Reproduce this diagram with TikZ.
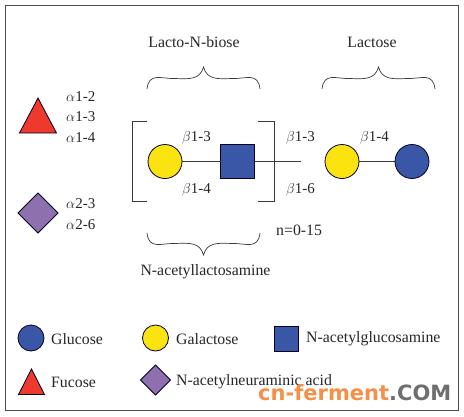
\documentclass[tikz,border=0pt]{standalone}
\usepackage{fontspec}
\setmainfont{Liberation Serif}
\usetikzlibrary{shapes.geometric}
\definecolor{glcblue}{HTML}{3A57A7}
\definecolor{galyellow}{HTML}{FBE30F}
\definecolor{fucred}{HTML}{EE3A2C}
\definecolor{neupurple}{HTML}{8E70AE}
\definecolor{linegray}{HTML}{3A3A3A}
\definecolor{wmorange}{HTML}{F58F4A}
\definecolor{wmgray}{HTML}{6E6E6E}
\tikzset{
  x=1pt,y=-1pt,
  sym/.style={draw=black!85!blue,line width=0.8pt,inner sep=0pt,outer sep=0pt},
  glc/.style={sym,circle,fill=glcblue,minimum size=#1},
  gal/.style={sym,circle,fill=galyellow,minimum size=#1},
  glcnac/.style={sym,rectangle,fill=glcblue,minimum size=#1},
  neu/.style={sym,diamond,fill=neupurple,minimum size=#1},
  fuc/.style={sym,fill=fucred,line join=miter},
  lab/.style={font=\fontsize{15.8}{17}\selectfont,text=black!85,inner sep=0pt,anchor=west},
  bondlab/.style={font=\fontsize{15}{17}\selectfont,text=black!85,inner sep=0pt,anchor=west},
  link/.style={draw=linegray,line width=0.8pt},
  bracketline/.style={draw=linegray,line width=0.8pt},
  bracecurve/.style={draw=linegray,line width=0.7pt}
}
\newcommand{\bond}[1]{$\beta$1-#1}
\newcommand{\bondA}[1]{$\alpha$1-#1}
\newcommand{\bondB}[1]{$\alpha$2-#1}
\newcommand{\mybrace}[3]{%
  \draw[bracecurve] (#1,#2) .. controls (#1+2,#2-17*#3) and (#1+14,#2-10*#3) .. (#1+28,#2-10.5*#3)
    .. controls (#1+42,#2-10*#3) and (#1+53,#2-9*#3) .. (#1+56.5,#2-22*#3)
    .. controls (#1+60,#2-9*#3) and (#1+71,#2-10*#3) .. (#1+85,#2-10.5*#3)
    .. controls (#1+99,#2-10*#3) and (#1+111,#2-17*#3) .. (#1+113,#2);}
\begin{document}
\begin{tikzpicture}
\useasboundingbox (0,0) rectangle (464,416);
\fill[white] (0,0) rectangle (464,416);
\draw[draw=black!70,line width=0.9pt] (5.5,5.5) rectangle (458,410);

% titles and braces
\node[lab,anchor=center] (tLNB) at (194,42) {Lacto-N-biose};
\node[lab,anchor=center] (tLac) at (372,42) {Lactose};
\node[lab,anchor=center] (tLacNAc) at (205.5,272) {N-acetyllactosamine};
\mybrace{147}{89}{1}
\mybrace{322}{89}{1}
\mybrace{147}{233}{-1}

% left key
\path[fuc] (38,98) -- (56.5,133) -- (19.5,133) -- cycle;
\node[bondlab] (a12) at (66,96.5) {\bondA{2}};
\node[bondlab] (a13) at (66,117) {\bondA{3}};
\node[bondlab] (a14) at (66,137.5) {\bondA{4}};
\node[neu=40pt] (dNeu) at (38,213) {};
\node[bondlab] (a23) at (66,204) {\bondB{3}};
\node[bondlab] (a26) at (66,225) {\bondB{6}};

% structure
\coordinate (free) at (301,161.5);
\node[gal=34pt] (g1) at (165,161.5) {};
\node[glcnac=34pt] (s1) at (237.5,161.5) {};
\node[gal=34pt] (g2) at (342,161.5) {};
\node[glc=34pt] (g3) at (412,161.5) {};
\draw[link] (g1) -- (s1);
\draw[link] (s1) -- (free);
\draw[link] (g2) -- (g3);
\draw[bracketline] (147,121) -- (132,121) -- (132,201) -- (147,201);
\draw[bracketline] (258,121) -- (274,121) -- (274,201) -- (258,201);
\node[bondlab] (b1) at (182,138) {\bond{3}};
\node[bondlab] (b2) at (182,190) {\bond{4}};
\node[bondlab] (b3) at (286,138) {\bond{3}};
\node[bondlab] (b4) at (286,190) {\bond{6}};
\node[bondlab] (b5) at (360,138) {\bond{4}};
\node[lab] (n) at (276,230) {n=0-15};

% legend
\node[glc=26pt] (lGlc) at (31,338) {};
\node[lab] (tGlc) at (51,339) {Glucose};
\node[gal=26pt] (lGal) at (155.5,338) {};
\node[lab] (tGal) at (176,339) {Galactose};
\node[glcnac=24.5pt] (lNac) at (286.5,339) {};
\node[lab] (tNac) at (306,339) {N-acetylglucosamine};
\path[fuc] (31.5,369) -- (44.5,394.5) -- (18.5,394.5) -- cycle;
\node[lab] (tFuc) at (51,382) {Fucose};
\node[neu=30pt] (lNeu) at (155.5,380) {};
\node[lab] (tNeu) at (176,382) {N-acetylneuraminic acid};

% watermark
\node[inner sep=0pt,anchor=west,font=\fontsize{21}{24}\selectfont\bfseries\fontspec{DejaVu Sans}] (wm) at (258,392.5) {\textcolor{wmorange}{cn-ferment}\textcolor{wmgray}{.COM}};
\end{tikzpicture}
\end{document}
